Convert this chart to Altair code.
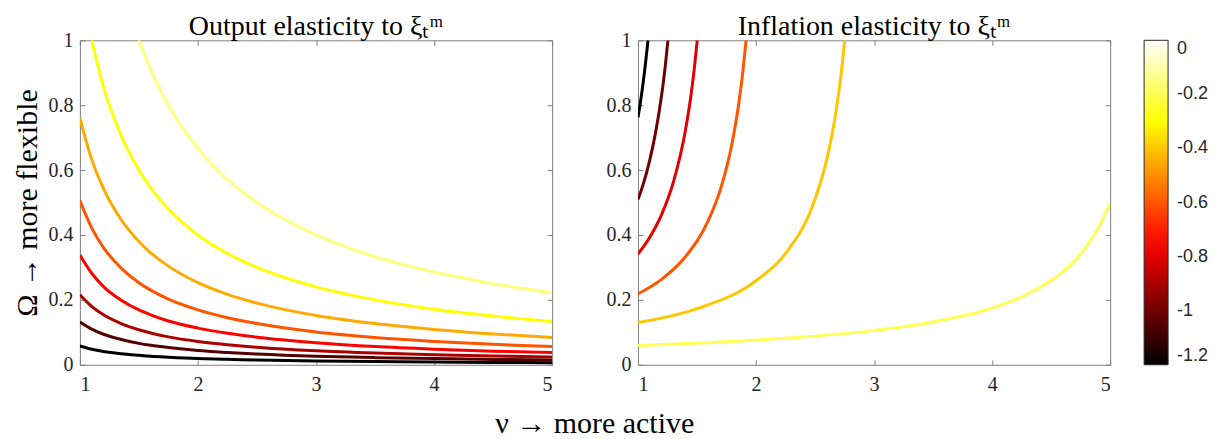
import altair as alt
import pandas as pd

# ---------------- data ----------------
NU_LEFT = [1.0, 1.1, 1.2, 1.35, 1.5, 1.6, 1.75, 2.0, 2.25, 2.5, 3.0, 3.5, 4.0, 4.5, 5.0]
LEFT_LEVELS = [-1.2, -1.05, -0.9, -0.75, -0.6, -0.45, -0.3, -0.15]
LEFT_OMEGA = [
    [0.058, 0.048, 0.041, 0.034, 0.029, 0.026, 0.023, 0.019, 0.017, 0.0145, 0.0116, 0.0097, 0.0083, 0.0073, 0.0064],
    [0.132, 0.110, 0.094, 0.078, 0.066, 0.060, 0.053, 0.044, 0.038, 0.033, 0.026, 0.022, 0.019, 0.0165, 0.0147],
    [0.216, 0.180, 0.154, 0.127, 0.108, 0.098, 0.086, 0.072, 0.062, 0.054, 0.043, 0.036, 0.031, 0.027, 0.024],
    [0.338, 0.282, 0.241, 0.199, 0.169, 0.154, 0.135, 0.113, 0.097, 0.085, 0.068, 0.056, 0.048, 0.042, 0.038],
    [0.506, 0.422, 0.361, 0.298, 0.253, 0.230, 0.202, 0.169, 0.145, 0.127, 0.101, 0.084, 0.072, 0.063, 0.056],
    [0.760, 0.633, 0.543, 0.447, 0.380, 0.345, 0.304, 0.253, 0.217, 0.190, 0.152, 0.127, 0.109, 0.095, 0.084],
    [None, 1.0, 0.857, 0.706, 0.600, 0.545, 0.480, 0.400, 0.343, 0.300, 0.240, 0.200, 0.171, 0.150, 0.133],
    [None, None, None, None, 1.0, 0.909, 0.800, 0.667, 0.571, 0.500, 0.400, 0.333, 0.286, 0.250, 0.222],
]

RIGHT_LEVELS = [-1.2, -1.0, -0.8, -0.6, -0.4, -0.2]
RIGHT_NU = [
    [1.0, 1.02, 1.04, 1.06, 1.085],
    [1.0, 1.05, 1.1, 1.15, 1.2, 1.23, 1.254],
    [1.0, 1.1, 1.2, 1.3, 1.4, 1.45, 1.48, 1.502],
    [1.0, 1.2, 1.4, 1.6, 1.7, 1.8, 1.85, 1.89, 1.916],
    [1.0, 1.5, 2.0, 2.25, 2.5, 2.6, 2.675, 2.72, 2.751],
    [1.0, 2.0, 3.0, 3.5, 4.0, 4.3, 4.6, 4.7, 4.8, 4.9, 5.0],
]
RIGHT_OMEGA = [
    [0.762, 0.807, 0.858, 0.916, 1.0],
    [0.509, 0.563, 0.631, 0.717, 0.830, 0.916, 1.0],
    [0.341, 0.393, 0.463, 0.563, 0.718, 0.833, 0.922, 1.0],
    [0.218, 0.263, 0.332, 0.448, 0.542, 0.688, 0.795, 0.908, 1.0],
    [0.130, 0.173, 0.259, 0.343, 0.511, 0.634, 0.775, 0.894, 1.0],
    [0.059, 0.076, 0.106, 0.132, 0.175, 0.218, 0.287, 0.321, 0.365, 0.422, 0.500],
]

X_TICKS = [1, 2, 3, 4, 5]
Y_TICKS = [0, 0.2, 0.4, 0.6, 0.8, 1]
CBAR_TICKS = [0, -0.2, -0.4, -0.6, -0.8, -1.0, -1.2]

TITLE_LEFT = "Output elasticity to ξₜᵐ"
TITLE_RIGHT = "Inflation elasticity to ξₜᵐ"
Y_TITLE = "Ω → more flexible"
X_TITLE = "ν → more active"

# ---------------- build tables ----------------
rows = []
for i, (lev, om) in enumerate(zip(LEFT_LEVELS, LEFT_OMEGA)):
    for nu, o in zip(NU_LEFT, om):
        if o is not None:
            rows.append({"nu": nu, "omega": o, "level": lev, "curve": f"L{i}"})
df_left = pd.DataFrame(rows)

rows = []
for i, (lev, nus, oms) in enumerate(zip(RIGHT_LEVELS, RIGHT_NU, RIGHT_OMEGA)):
    for nu, o in zip(nus, oms):
        rows.append({"nu": nu, "omega": o, "level": lev, "curve": f"R{i}"})
df_right = pd.DataFrame(rows)

W, H = 473, 325
SERIF = "Liberation Serif"
SANS = "Liberation Sans"
TICKC = "#7f7f7f"
LABC = "#262626"
TFS = 30

xscale = alt.Scale(domain=[1, 5], nice=False, zero=False)
yscale = alt.Scale(domain=[0, 1], nice=False, zero=False)
cscale = alt.Scale(domain=[-1.2, -0.75, -0.3, 0.0],
                   range=["#000000", "#ff0000", "#ffff00", "#ffffff"],
                   interpolate="rgb")


def panel(df, title, ytitle, legend):
    base = alt.Chart(df)
    xa = dict(values=X_TICKS, grid=False, title=None)
    ya = dict(values=Y_TICKS, grid=False)
    lines = base.mark_line(strokeWidth=3, clip=True, interpolate="monotone").encode(
        x=alt.X("nu:Q", scale=xscale, axis=alt.Axis(
            orient="bottom", ticks=False, domain=False, labelFont=SERIF, labelFontSize=20,
            labelColor=LABC, labelPadding=10, **xa)),
        y=alt.Y("omega:Q", scale=yscale, axis=alt.Axis(
            orient="left", ticks=False, domain=False, format=".1~f", labelFont=SERIF,
            labelFontSize=20, labelColor=LABC, labelPadding=7,
            title=ytitle if ytitle else None, titleFont=SERIF, titleFontSize=TFS,
            titleFontWeight="normal", titleColor="#000000", titlePadding=5, **ya)),
        color=alt.Color("level:Q", scale=cscale, legend=legend),
        detail="curve:N",
        order="nu:Q",
    )
    t1 = base.mark_line(opacity=0).encode(
        x=alt.X("nu:Q", scale=xscale, axis=alt.Axis(
            orient="top", offset=-H, labels=False, domain=False, tickSize=5,
            tickColor=TICKC, **xa)),
        y=alt.Y("omega:Q", scale=yscale, axis=alt.Axis(
            orient="right", offset=-W, labels=False, domain=False, tickSize=5,
            tickColor=TICKC, title=None, **ya)),
        detail="curve:N",
    )
    t2 = base.mark_line(opacity=0).encode(
        x=alt.X("nu:Q", scale=xscale, axis=alt.Axis(
            orient="bottom", offset=-H, labels=False, domain=False, tickSize=5,
            tickColor=TICKC, **xa)),
        y=alt.Y("omega:Q", scale=yscale, axis=alt.Axis(
            orient="left", offset=-W, labels=False, domain=False, tickSize=5,
            tickColor=TICKC, title=None, **ya)),
        detail="curve:N",
    )
    return alt.layer(lines, t1, t2).resolve_axis(x="independent", y="independent").properties(
        width=W, height=H,
        title=alt.TitleParams(text=title, font=SERIF, fontSize=28, fontWeight="normal",
                              color="#000000", anchor="middle", offset=-11))


legend = alt.Legend(
    orient="none", legendX=1066, legendY=0, title=None, direction="vertical",
    gradientLength=H, gradientThickness=24, values=CBAR_TICKS,
    labelExpr="'' + round(datum.value * 10) / 10",
    labelFont=SANS, labelFontSize=18, labelColor=LABC, labelOffset=9,
    labelBaseline="middle", labelOverlap=False,
    gradientStrokeColor=LABC, gradientStrokeWidth=1, padding=0,
)

left = panel(df_left, TITLE_LEFT, Y_TITLE, legend)
right = panel(df_right, TITLE_RIGHT, None, None)

chart = alt.hconcat(left, right, spacing=86, bounds="flush").properties(
    title=alt.TitleParams(text=X_TITLE, orient="bottom", anchor="middle", font=SERIF,
                          fontSize=TFS, fontWeight="normal", color="#000000", offset=14,
                          dx=-16),
    padding={"left": 4, "top": 4, "right": 5, "bottom": 0},
).configure_view(stroke=TICKC, strokeWidth=1)

chart.save("out.html", embed_options={"renderer": "svg", "actions": False})
